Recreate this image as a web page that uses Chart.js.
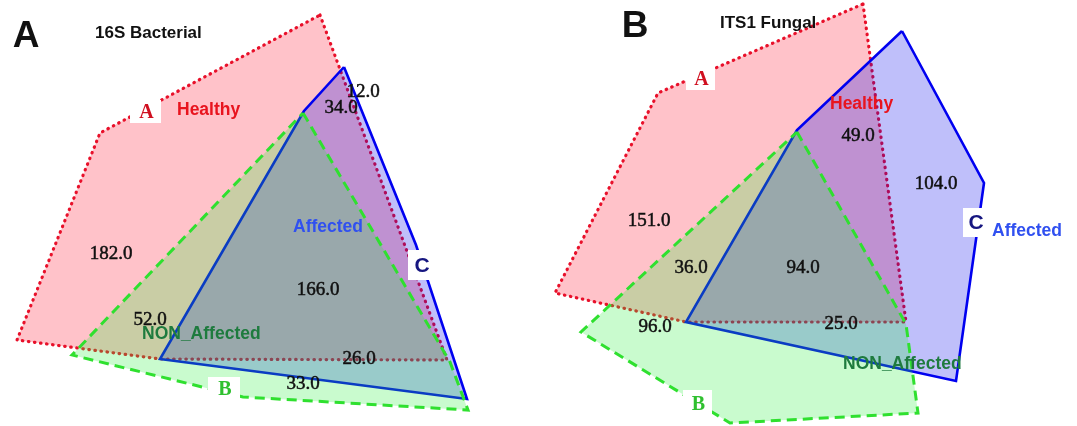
<!DOCTYPE html>
<html>
<head>
<meta charset="utf-8">
<title>Shared and unique OTUs</title>
<script src="https://cdn.jsdelivr.net/npm/chart.js@4.4.1/dist/chart.umd.min.js"></script>
<style>
  html, body { margin: 0; padding: 0; background: #ffffff; }
  #wrap { width: 1077px; height: 426px; }
</style>
</head>
<body>
<div id="wrap"><canvas id="venn" width="1077" height="426"></canvas></div>
<script>
// ---- counts per region ----
const groupNames = ['Healthy', 'NON_Affected', 'Affected'];
const bacterialCounts = [182, 52, 166, 26, 33, 34, 12];   // 16S
const fungalCounts = [151, 36, 94, 25, 96, 49, 104];      // ITS1

// ---- outlines of each set (page units, y grows downward) ----
const bactHealthy = [[320, 15], [447, 360], [160, 359], [17, 340], [100, 133]];
const bactNonAffected = [[303, 113], [450, 362], [468, 410], [243, 397], [72, 355]];
const bactAffected = [[344, 67], [416, 245], [467, 399], [160, 359], [304, 111]];
const fungHealthy = [[863, 4], [906, 322], [686, 322], [555, 293], [658, 93]];
const fungNonAffected = [[797, 132], [906, 324], [918, 413], [730, 423], [581, 332]];
const fungAffected = [[902, 31], [984, 183], [956, 381], [686, 322], [797, 130]];

// ---- label anchors ----
const bactCountPos = [[111, 254], [150, 320], [318, 290], [359, 359], [303, 384], [341, 108], [363, 92]];
const fungCountPos = [[649, 221], [691, 268], [803, 268], [841, 324], [655, 327], [858, 136], [936, 184]];
const bactNamePos = [[177, 110], [142, 334], [293, 227]];
const fungNamePos = [[830, 104], [843, 364], [992, 231]];
const setTags = ['A', 'B', 'C'];
const bactTagBoxes = [[130, 100, 161, 123], [208, 377, 240, 400], [408, 250, 431, 280]];
const fungTagBoxes = [[686, 67, 715, 90], [683, 390, 712, 417], [963, 208, 985, 237]];
const panels = [
  { letter: 'A', title: '16S Bacterial', letterPos: [26, 37], titlePos: [95, 33] },
  { letter: 'B', title: 'ITS1 Fungal', letterPos: [635, 27], titlePos: [720, 23] }
];

const style = {
  Healthy: { fill: 'rgba(255,10,40,0.25)', line: '#e8102a', dash: [0.5, 5.6], cap: 'round', width: 3.2, text: '#e8141e' },
  NON_Affected: { fill: 'rgba(40,240,60,0.25)', line: '#2fe02f', dash: [10, 6], cap: 'butt', width: 3, text: '#1e7b3e' },
  Affected: { fill: 'rgba(0,0,235,0.25)', line: '#0000f0', dash: [], cap: 'butt', width: 2.6, text: '#3050f0' }
};
const tagColor = { A: '#d01020', B: '#2fc02f', C: '#161680' };

function closed(poly) {
  const pts = poly.map(([x, y]) => ({ x, y }));
  pts.push({ x: poly[0][0], y: poly[0][1] });
  return pts;
}

// higher order is painted first: Healthy, then Affected, then NON_Affected
function setDataset(name, poly, order) {
  const s = style[name];
  return {
    label: name,
    data: closed(poly),
    showLine: true,
    fill: 'shape',
    backgroundColor: s.fill,
    borderColor: s.line,
    borderWidth: s.width,
    borderDash: s.dash,
    borderCapStyle: s.cap,
    borderJoinStyle: 'miter',
    tension: 0,
    pointRadius: 0,
    order: order
  };
}

const datasets = [
  setDataset('Healthy', bactHealthy, 3),
  setDataset('NON_Affected', bactNonAffected, 1),
  setDataset('Affected', bactAffected, 2),
  setDataset('Healthy', fungHealthy, 3),
  setDataset('NON_Affected', fungNonAffected, 1),
  setDataset('Affected', fungAffected, 2)
];

// Text layer: panel letters, titles, set tags, group names and region counts
const textLayer = {
  id: 'vennText',
  afterDatasetsDraw(chart) {
    const ctx = chart.ctx;
    const sx = chart.scales.x, sy = chart.scales.y;
    const px = v => sx.getPixelForValue(v);
    const py = v => sy.getPixelForValue(v);
    ctx.save();

    // panel letters and titles
    panels.forEach(p => {
      ctx.fillStyle = '#111111';
      ctx.textAlign = 'center';
      ctx.textBaseline = 'middle';
      ctx.font = 'bold 37px "Liberation Sans", Arial, sans-serif';
      ctx.fillText(p.letter, px(p.letterPos[0]), py(p.letterPos[1]));
      ctx.textAlign = 'left';
      ctx.font = 'bold 17px "Liberation Sans", Arial, sans-serif';
      ctx.fillText(p.title, px(p.titlePos[0]), py(p.titlePos[1]));
    });

    // set tags on white boxes
    [bactTagBoxes, fungTagBoxes].forEach(boxes => {
      boxes.forEach((b, i) => {
        const x0 = px(b[0]), y0 = py(b[1]), x1 = px(b[2]), y1 = py(b[3]);
        ctx.fillStyle = '#ffffff';
        ctx.fillRect(x0, y0, x1 - x0, y1 - y0);
        const tag = setTags[i];
        ctx.fillStyle = tagColor[tag];
        ctx.textBaseline = 'middle';
        ctx.textAlign = 'center';
        if (tag === 'C') {
          ctx.font = 'bold 21px "Liberation Sans", Arial, sans-serif';
          ctx.fillText(tag, x1 - 9, (y0 + y1) / 2 + 1);
        } else {
          ctx.font = 'bold 20px "Liberation Serif", "Times New Roman", serif';
          ctx.fillText(tag, (x0 + x1) / 2 + 1, (y0 + y1) / 2 + 1);
        }
      });
    });

    // group names
    [bactNamePos, fungNamePos].forEach(pos => {
      groupNames.forEach((name, i) => {
        ctx.fillStyle = style[name].text;
        ctx.textAlign = 'left';
        ctx.textBaseline = 'middle';
        ctx.font = 'bold 17.5px "Liberation Sans", Arial, sans-serif';
        ctx.fillText(name, px(pos[i][0]), py(pos[i][1]));
      });
    });

    // region counts
    ctx.fillStyle = '#111111';
    ctx.strokeStyle = '#111111';
    ctx.lineWidth = 0.5;
    ctx.textAlign = 'center';
    ctx.textBaseline = 'middle';
    ctx.font = '19px "Liberation Serif", "Times New Roman", serif';
    const put = (v, p) => {
      const t = v.toFixed(1);
      ctx.fillText(t, px(p[0]), py(p[1]));
      ctx.strokeText(t, px(p[0]), py(p[1]));
    };
    bacterialCounts.forEach((v, i) => put(v, bactCountPos[i]));
    fungalCounts.forEach((v, i) => put(v, fungCountPos[i]));
    ctx.restore();
  }
};

new Chart(document.getElementById('venn'), {
  type: 'scatter',
  data: { datasets },
  options: {
    responsive: false,
    animation: false,
    layout: { padding: 0 },
    scales: {
      x: { type: 'linear', min: 0, max: 1077, display: false },
      y: { type: 'linear', min: 0, max: 426, reverse: true, display: false }
    },
    plugins: {
      legend: { display: false },
      tooltip: { enabled: false }
    }
  },
  plugins: [textLayer]
});
</script>
</body>
</html>
